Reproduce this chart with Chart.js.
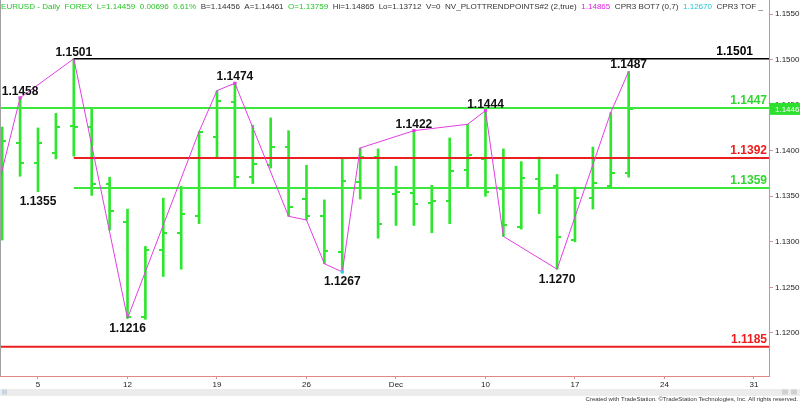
<!DOCTYPE html>
<html>
<head>
<meta charset="utf-8">
<script src="https://cdn.jsdelivr.net/npm/chart.js@4.4.1/dist/chart.umd.min.js"></script>
<style>
  html, body { margin: 0; padding: 0; background: #fff; }
</style>
</head>
<body>
<canvas id="chart" width="800" height="402"></canvas>
<script>
// EURUSD daily bars, index 0 = Thu Nov 1 2018 ... index 35 = Thu Dec 20 2018
const opens  = [1.1313, 1.1409, 1.1387, 1.1398, 1.1427, 1.1426, 1.1363, 1.1322, 1.1217, 1.1291,
                1.1310, 1.1328, 1.1415, 1.1454, 1.1371, 1.1384, 1.1404, 1.1347, 1.1328, 1.1289,
                1.1366, 1.1393, 1.1353, 1.1354, 1.1343, 1.1345, 1.1379, 1.1391, 1.1358, 1.1316,
                1.1369, 1.1361, 1.1302, 1.1348, 1.1361, 1.1376];
const highs  = [1.1426, 1.1458, 1.1425, 1.1441, 1.1501, 1.1447, 1.1371, 1.1336, 1.1295, 1.1348,
                1.1361, 1.1421, 1.1466, 1.1474, 1.1428, 1.1436, 1.1422, 1.1384, 1.1346, 1.1392,
                1.1403, 1.1402, 1.1383, 1.1422, 1.1362, 1.1414, 1.1429, 1.1444, 1.1402, 1.1388,
                1.1393, 1.1374, 1.1360, 1.1404, 1.1442, 1.1487];
const lows   = [1.1302, 1.1372, 1.1355, 1.1391, 1.1394, 1.1351, 1.1313, 1.1216, 1.1215, 1.1262,
                1.1270, 1.1320, 1.1393, 1.1359, 1.1364, 1.1381, 1.1328, 1.1324, 1.1276, 1.1267,
                1.1347, 1.1304, 1.1318, 1.1318, 1.1310, 1.1320, 1.1359, 1.1350, 1.1306, 1.1314,
                1.1331, 1.1270, 1.1300, 1.1336, 1.1359, 1.1371];
const closes = [1.1411, 1.1387, 1.1409, 1.1426, 1.1426, 1.1364, 1.1334, 1.1218, 1.1291, 1.1310,
                1.1331, 1.1421, 1.1455, 1.1371, 1.1385, 1.1404, 1.1338, 1.1328, 1.1290, 1.1367,
                1.1393, 1.1320, 1.1355, 1.1342, 1.1345, 1.1378, 1.1395, 1.1355, 1.1319, 1.1370,
                1.1358, 1.1305, 1.1348, 1.1365, 1.1376, 1.1446];

// axis ticks (x = Mondays)
const tickIdx  = [2, 7, 12, 17, 22, 27, 32, 37, 42];
const tickText = ['5', '12', '19', '26', 'Dec', '10', '17', '24', '31'];
const priceTicks = [1.1200, 1.1250, 1.1300, 1.1350, 1.1400, 1.1450, 1.1500, 1.1550];

// trend points line (index -1 = Oct 31 low, off the left edge)
const trendIdx = [-1, 1, 4, 7, 11, 12, 13, 16, 17, 18, 19, 20, 23, 26, 27, 28, 31, 34, 35];
const trendVal = [1.1300, 1.1458, 1.1501, 1.1216, 1.1421, 1.1466, 1.1474, 1.1328, 1.1324, 1.1276,
                  1.1267, 1.1403, 1.1422, 1.1429, 1.1444, 1.1306, 1.1270, 1.1442, 1.1487];
const markIdx  = [1, 13, 23, 27, 19];
const markCyan = [19];

// swing labels
const swingIdx = [1, 4, 2, 7, 13, 19, 23, 27, 31, 35];
const swingVal = [1.1458, 1.1501, 1.1355, 1.1216, 1.1474, 1.1267, 1.1422, 1.1444, 1.1270, 1.1487];
const swingUp  = [true, true, false, false, true, false, true, true, false, true];

// horizontal levels
const levelVal   = [1.1501, 1.1447, 1.1392, 1.1359, 1.1185];
const levelStart = [4, -1, 4, 4, -1];
const lastPrice  = 1.14459;

const GREEN = '#2fe62f';
const LEVEL_COLORS = ['#000000', '#3be83b', '#ea2020', '#3be83b', '#ea2020'];
const LEVEL_TEXT   = ['#000000', '#2ed82e', '#ee1c1c', '#2ed82e', '#ee1c1c'];
const LEVEL_RIGHT  = [16, 2, 2, 2, 2];
const FONT = "'Liberation Sans', Arial, sans-serif";
const X_MIN = -0.123, X_MAX = 42.84;

function tickImage(left) {
  const c = document.createElement('canvas');
  c.width = 8; c.height = 2;
  const g = c.getContext('2d');
  g.fillStyle = GREEN;
  g.fillRect(left ? 0 : 4, 0, 4, 2);
  return c;
}

const datasets = [];

datasets.push({
  type: 'line',
  order: 0,
  data: trendIdx.map((x, i) => ({ x: x, y: trendVal[i] })),
  borderColor: '#e23ee2',
  borderWidth: 1,
  tension: 0,
  pointStyle: 'rect',
  pointRadius: trendIdx.map(x => markIdx.includes(x) ? 2.3 : 0),
  pointBackgroundColor: trendIdx.map(x => markCyan.includes(x) ? '#22d6e6' : '#e23ee2'),
  pointBorderWidth: 0
});

levelVal.forEach((v, i) => {
  datasets.push({
    type: 'line',
    order: 1,
    data: [{ x: levelStart[i], y: v }, { x: X_MAX + 1, y: v }],
    borderColor: LEVEL_COLORS[i],
    borderWidth: i === 0 ? 1.5 : 2,
    pointRadius: 0
  });
});

datasets.push({
  type: 'scatter',
  order: 2,
  data: opens.map((o, i) => ({ x: i, y: o })),
  pointStyle: tickImage(true),
  pointRadius: 3
});
datasets.push({
  type: 'scatter',
  order: 2,
  data: closes.map((c, i) => ({ x: i, y: c })),
  pointStyle: tickImage(false),
  pointRadius: 3
});

datasets.push({
  type: 'bar',
  order: 3,
  data: highs.map((h, i) => ({ x: i, y: [lows[i], h] })),
  backgroundColor: GREEN,
  borderWidth: 0,
  barThickness: 2,
  grouped: false
});

const labelsPlugin = {
  id: 'labels',
  afterDatasetsDraw(chart) {
    const { ctx, scales: { x, y }, chartArea } = chart;
    ctx.save();
    ctx.font = 'bold 12px ' + FONT;
    ctx.textAlign = 'center';
    ctx.fillStyle = '#111';
    swingIdx.forEach((idx, i) => {
      const px = x.getPixelForValue(idx);
      const py = y.getPixelForValue(swingVal[i]);
      if (swingUp[i]) {
        ctx.textBaseline = 'alphabetic';
        ctx.fillText(swingVal[i].toFixed(4), px, py - 3);
      } else {
        ctx.textBaseline = 'top';
        ctx.fillText(swingVal[i].toFixed(4), px, py + 4);
      }
    });
    ctx.textAlign = 'right';
    ctx.textBaseline = 'alphabetic';
    levelVal.forEach((v, i) => {
      ctx.fillStyle = LEVEL_TEXT[i];
      ctx.fillText(v.toFixed(4), chartArea.right - LEVEL_RIGHT[i], y.getPixelForValue(v) - 4);
    });
    ctx.restore();
  },
  afterDraw(chart) {
    const { ctx, scales: { y }, chartArea } = chart;
    ctx.save();
    // left border
    ctx.strokeStyle = '#a0a0a0';
    ctx.lineWidth = 1;
    ctx.beginPath();
    ctx.moveTo(0.5, 0);
    ctx.lineTo(0.5, chartArea.bottom);
    ctx.stroke();

    // last price box
    const ly = y.getPixelForValue(lastPrice);
    ctx.fillStyle = '#2ee02e';
    ctx.fillRect(chartArea.right + 1, ly - 6, 31, 12);
    ctx.fillStyle = '#ffffff';
    ctx.font = '8px ' + FONT;
    ctx.textAlign = 'left';
    ctx.textBaseline = 'middle';
    ctx.fillText(lastPrice.toFixed(4), chartArea.right + 6, ly + 0.5);

    // header
    const parts = [
      ['EURUSD - Daily  FOREX  L=1.14459  0.00696  0.61%  ', '#26c426'],
      ['B=1.14456  A=1.14461  ', '#333333'],
      ['O=1.13759  ', '#26c426'],
      ['Hi=1.14865  Lo=1.13712  V=0  NV_PLOTTRENDPOINTS#2 (2,true)  ', '#333333'],
      ['1.14865  ', '#e020e0'],
      ['CPR3 BOT7 (0,7)  ', '#333333'],
      ['1.12670  ', '#20c8d0'],
      ['CPR3 TOF _', '#333333']
    ];
    ctx.font = '8px ' + FONT;
    ctx.textBaseline = 'alphabetic';
    const total = parts.reduce((s, p) => s + ctx.measureText(p[0]).width, 0);
    const k = 762 / total;
    ctx.save();
    ctx.translate(1, 9);
    ctx.scale(k, 1);
    let cx = 0;
    parts.forEach(p => {
      ctx.fillStyle = p[1];
      ctx.fillText(p[0], cx, 0);
      cx += ctx.measureText(p[0]).width;
    });
    ctx.restore();

    // scroll strip + credit
    ctx.fillStyle = '#ececec';
    ctx.fillRect(0, 389, 800, 7);
    ctx.fillStyle = '#c8d4e4';
    ctx.fillRect(2, 389.5, 5, 5);
    ctx.fillStyle = '#d0d0d0';
    ctx.fillRect(782, 389.5, 6, 5);
    ctx.fillRect(791, 389.5, 6, 5);
    ctx.fillStyle = '#333';
    ctx.font = '6px ' + FONT;
    ctx.textAlign = 'right';
    ctx.textBaseline = 'alphabetic';
    ctx.fillText('Created with TradeStation. \u00A9TradeStation Technologies, Inc. All rights reserved.', 798, 401);
    ctx.restore();
  }
};

new Chart(document.getElementById('chart').getContext('2d'), {
  type: 'scatter',
  data: { datasets: datasets },
  options: {
    responsive: false,
    animation: false,
    devicePixelRatio: 1,
    layout: { padding: 0, autoPadding: false },
    events: [],
    plugins: {
      legend: { display: false },
      tooltip: { enabled: false }
    },
    scales: {
      x: {
        type: 'linear',
        min: X_MIN,
        max: X_MAX,
        offset: false,
        afterBuildTicks: s => { s.ticks = tickIdx.map(v => ({ value: v })); },
        afterFit: s => { s.height = 26; s.paddingLeft = 0; s.paddingRight = 0; },
        grid: { display: true, drawOnChartArea: false, drawTicks: true, tickLength: 3, color: '#d89090', offset: false },
        border: { display: true, color: '#e08888', width: 1 },
        ticks: {
          autoSkip: false,
          maxRotation: 0,
          padding: 1,
          color: '#222',
          font: { family: FONT, size: 8 },
          callback: (v, i) => tickText[i]
        }
      },
      y: {
        type: 'linear',
        position: 'right',
        min: 1.11528,
        max: 1.15654,
        afterBuildTicks: s => { s.ticks = priceTicks.map(v => ({ value: v })); },
        afterFit: s => { s.width = 31; s.paddingTop = 0; s.paddingBottom = 0; },
        grid: { display: true, drawOnChartArea: false, drawTicks: true, tickLength: 4, color: '#d89090' },
        border: { display: true, color: '#e08888', width: 1 },
        ticks: {
          padding: 2,
          color: '#222',
          font: { family: FONT, size: 8 },
          callback: v => v.toFixed(4)
        }
      }
    }
  },
  plugins: [labelsPlugin]
});
</script>
</body>
</html>
